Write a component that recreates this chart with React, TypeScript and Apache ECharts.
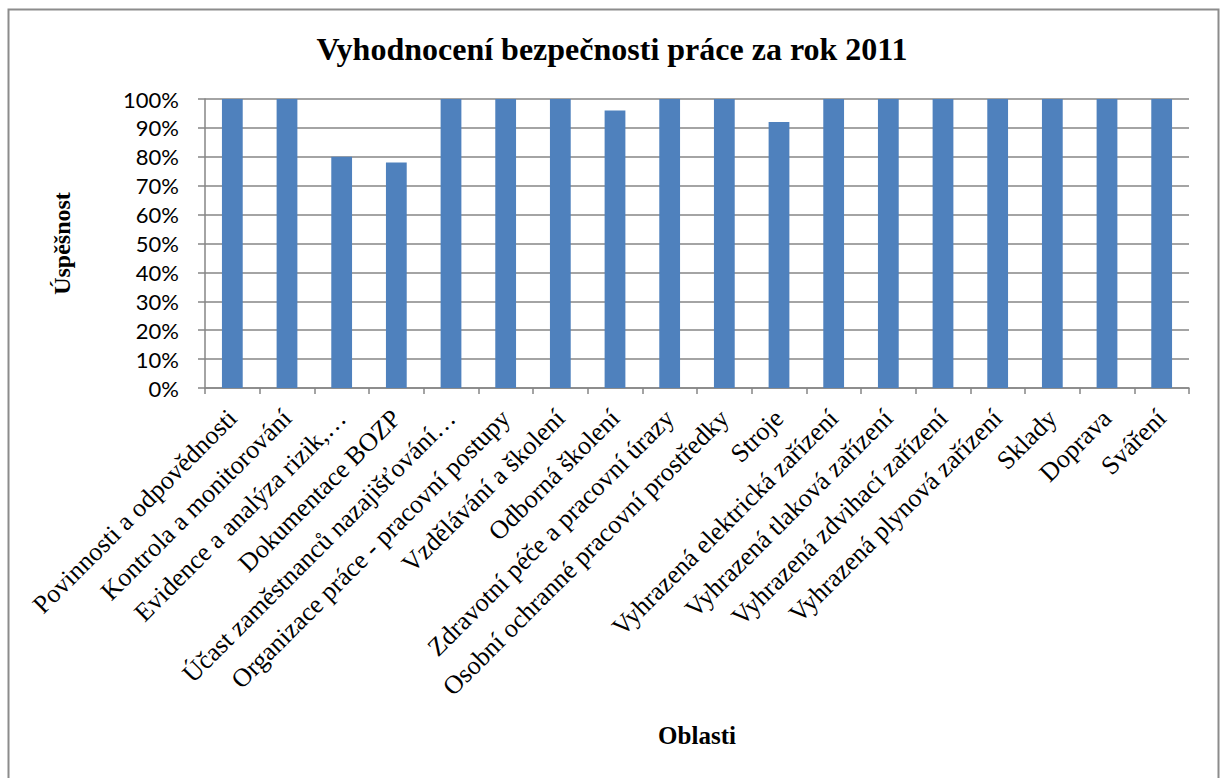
import React, { useEffect, useRef } from "react";
import * as echarts from "echarts";

const categories = [
  "Povinnosti a odpovědnosti",
  "Kontrola a monitorování",
  "Evidence a analýza rizik,…",
  "Dokumentace BOZP",
  "Účast zaměstnanců nazajišťování…",
  "Organizace práce - pracovní postupy",
  "Vzdělávání a školení",
  "Odborná školení",
  "Zdravotní péče a pracovní úrazy",
  "Osobní ochranné pracovní prostředky",
  "Stroje",
  "Vyhrazená elektrická zařízení",
  "Vyhrazená tlaková zařízení",
  "Vyhrazená zdvihací zařízení",
  "Vyhrazená plynová zařízení",
  "Sklady",
  "Doprava",
  "Sváření",
];

const successPct = [100, 100, 80, 78, 100, 100, 100, 96, 100, 100, 92, 100, 100, 100, 100, 100, 100, 100];

const yTicks = { min: 0, max: 100, interval: 10 };

const titleText = "Vyhodnocení bezpečnosti práce za rok 2011";
const yName = "Úspěšnost";
const xName = "Oblasti";

const SERIF = "Liberation Serif";
const GRID_COLOR = "#868686";

export default function App() {
  const ref = useRef<HTMLDivElement>(null);

  useEffect(() => {
    document.body.style.margin = "0";
    document.documentElement.style.overflow = "hidden";
    const chart = echarts.init(ref.current!, null, { renderer: "svg" });
    chart.setOption({
      animation: false,
      backgroundColor: "#ffffff",
      title: {
        text: titleText,
        left: "center",
        top: 28,
        textStyle: { fontFamily: SERIF, fontWeight: "bold", fontSize: 32, color: "#000" },
      },
      graphic: [
        {
          type: "rect",
          shape: { x: 8.5, y: 9.5, width: 1210, height: 800 },
          style: { fill: "none", stroke: "#8c8c8c", lineWidth: 2 },
          silent: true,
          z: -1,
        },
      ],
      grid: { left: 205, right: 35, top: 99, bottom: 390, containLabel: false },
      xAxis: {
        type: "category",
        data: categories,
        boundaryGap: true,
        name: xName,
        nameLocation: "middle",
        nameGap: 347,
        nameTextStyle: { fontFamily: SERIF, fontWeight: "bold", fontSize: 25, color: "#000", verticalAlign: "middle" },
        axisLine: { show: true, lineStyle: { color: GRID_COLOR, width: 1.5 } },
        axisTick: { show: true, length: 6, lineStyle: { color: GRID_COLOR, width: 1.5 } },
        axisLabel: {
          interval: 0,
          rotate: 45,
          margin: 26,
          fontFamily: SERIF,
          fontSize: 26,
          color: "#000",
        },
        splitLine: { show: false },
      },
      yAxis: {
        type: "value",
        min: yTicks.min,
        max: yTicks.max,
        interval: yTicks.interval,
        name: yName,
        nameLocation: "middle",
        nameGap: 143,
        nameRotate: 90,
        nameTextStyle: { fontFamily: SERIF, fontWeight: "bold", fontSize: 24, color: "#000", verticalAlign: "middle" },
        axisLine: { show: true, lineStyle: { color: GRID_COLOR, width: 1.5 } },
        axisTick: { show: true, length: 7, lineStyle: { color: GRID_COLOR, width: 1.5 } },
        axisLabel: {
          formatter: (v: number) => `${v}%`,
          margin: 26,
          fontFamily: "Lato",
          fontSize: 22,
          color: "#000",
        },
        splitLine: { show: true, lineStyle: { color: GRID_COLOR, width: 1.5 } },
      },
      series: [
        {
          type: "bar",
          data: successPct,
          barWidth: "38%",
          itemStyle: { color: "#4F81BD" },
        },
      ],
    });
    return () => chart.dispose();
  }, []);

  return (
    <div
      ref={ref}
      style={{ position: "absolute", left: 0, top: 0, width: 1224, height: 778 }}
    />
  );
}
